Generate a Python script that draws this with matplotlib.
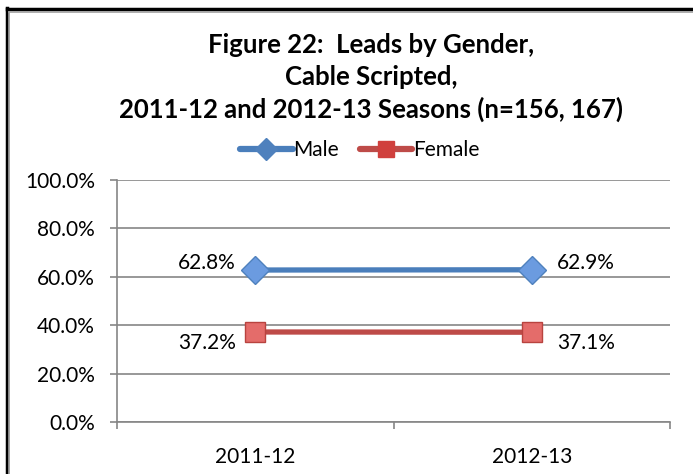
import numpy as np
from matplotlib import pyplot as plt
from matplotlib.lines import Line2D

plt.rcParams['font.family'] = ['Lato', 'DejaVu Sans']

seasons = ["2011-12", "2012-13"]
male = [62.8, 62.9]
female = [37.2, 37.1]
yticks = [0, 20, 40, 60, 80, 100]

blue = "#4A7EBB"
red = "#BE4B48"
fs = 15

fig = plt.figure(figsize=(6.93, 4.74), dpi=100)
ax = fig.add_axes([117/693, 1-422/474, (670-117)/693, (422-180)/474])

x = np.arange(len(seasons))
ax.plot(x, male, color=blue, lw=3.8, marker="D", ms=14, mfc="#6B9BE0",
        mec="#4F81BD", mew=1, zorder=3, solid_capstyle="round")
ax.plot(x, female, color=red, lw=3.8, marker="s", ms=15, mfc="#E46C6A",
        mec="#B8433F", mew=1, zorder=3, solid_capstyle="round")

# data labels
ax.annotate(f"{male[0]:.1f}%", (x[0], male[0]), xytext=(-14, 5), textcoords="offset points",
            ha="right", va="center", fontsize=fs)
ax.annotate(f"{male[1]:.1f}%", (x[1], male[1]), xytext=(18, 5), textcoords="offset points",
            ha="left", va="center", fontsize=fs)
ax.annotate(f"{female[0]:.1f}%", (x[0], female[0]), xytext=(-14, -8), textcoords="offset points",
            ha="right", va="center", fontsize=fs)
ax.annotate(f"{female[1]:.1f}%", (x[1], female[1]), xytext=(18, -8), textcoords="offset points",
            ha="left", va="center", fontsize=fs)

ax.set_xlim(-0.5, 1.5)
ax.set_ylim(0, 100)
ax.set_yticks(yticks)
ax.set_yticklabels([f"{v:.1f}%" for v in yticks], fontsize=fs)
ax.set_xticks(x)
ax.set_xticklabels(seasons, fontsize=fs)
ax.set_xticks([-0.5, 0.5, 1.5], minor=True)
ax.tick_params(axis="x", which="major", length=0, pad=18)
ax.tick_params(axis="x", which="minor", length=5, width=1.2, color="#868686", direction="out")
ax.tick_params(axis="y", length=5, width=1.2, color="#868686", pad=11)
ax.grid(axis="y", color="#868686", lw=1.2)
ax.set_axisbelow(True)
for s in ["top", "right"]:
    ax.spines[s].set_visible(False)
for s in ["left", "bottom"]:
    ax.spines[s].set_color("#868686")
    ax.spines[s].set_linewidth(1.2)

title_fs = 18.5
fig.text(0.535, 1-45/474, "Figure 22:  Leads by Gender,", ha="center", va="center",
         fontsize=title_fs, fontweight="bold")
fig.text(0.535, 1-77/474, "Cable Scripted,", ha="center", va="center",
         fontsize=title_fs, fontweight="bold")
fig.text(0.535, 1-109/474, "2011-12 and 2012-13 Seasons (n=156, 167)", ha="center", va="center",
         fontsize=title_fs, fontweight="bold")

handles = [
    Line2D([], [], color=blue, lw=4.5, marker="D", ms=11, mfc="#4F81BD", mec="#4F81BD", solid_capstyle="round"),
    Line2D([], [], color=red, lw=4.5, marker="s", ms=12, mfc="#D0403D", mec="#D0403D", solid_capstyle="round"),
]
fig.legend(handles, ["Male", "Female"], loc="center", bbox_to_anchor=(360/693, 1-150/474),
           ncol=2, frameon=False, fontsize=fs, handlelength=2.5, handletextpad=0.05,
           columnspacing=1.0)

# outer border (left and top)
fig.add_artist(Line2D([6.5/693, 6.5/693], [0, 1-8/474], color="black", lw=2.5, transform=fig.transFigure))
fig.add_artist(Line2D([6.5/693, 1], [1-9/474, 1-9/474], color="black", lw=2.5, transform=fig.transFigure))
fig.add_artist(Line2D([9/693, 1], [1-11.5/474, 1-11.5/474], color="#A0A0A0", lw=1.2, transform=fig.transFigure))
fig.add_artist(Line2D([9/693, 9/693], [0, 1-11.5/474], color="#A0A0A0", lw=1.2, transform=fig.transFigure))

fig.savefig("out.png", dpi=100)
